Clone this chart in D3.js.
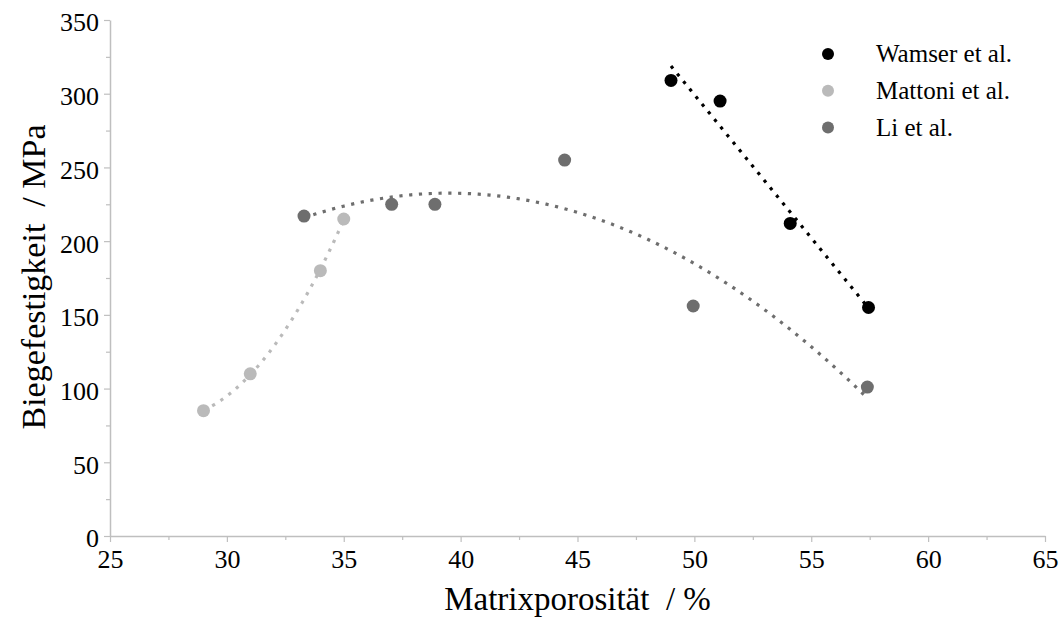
<!DOCTYPE html>
<html>
<head>
<meta charset="utf-8">
<script src="https://cdn.jsdelivr.net/npm/d3@7"></script>
<style>
  body { margin: 0; background: #fff; }
  text { font-family: "Liberation Serif", "Times New Roman", serif; }
</style>
</head>
<body>
<script>
const width = 1062;
const height = 617;

// data
const seriesNames = ["Wamser et al.", "Mattoni et al.", "Li et al."];
const seriesColors = ["#000000", "#bababa", "#6e6e6e"];
const wamserX = [49.0, 51.1, 54.1, 57.45];
const wamserY = [309, 295, 212, 155];
const mattoniX = [29.0, 31.0, 34.0, 35.0];
const mattoniY = [85, 110, 180, 215];
const liX = [33.3, 37.05, 38.9, 44.45, 49.95, 57.4];
const liY = [217, 225, 225, 255, 156, 101];
const trendOrder = [1, 2, 2];
const xTicks = [25, 30, 35, 40, 45, 50, 55, 60, 65];
const yTicks = [0, 50, 100, 150, 200, 250, 300, 350];

const margin = { left: 110, right: 17, top: 20, bottom: 81 };

const svg = d3
  .select("body")
  .append("svg")
  .attr("width", width)
  .attr("height", height);

const x = d3
  .scaleLinear()
  .domain([25, 65])
  .range([margin.left, width - margin.right]);
const y = d3
  .scaleLinear()
  .domain([0, 350])
  .range([height - margin.bottom, margin.top]);

const axisColor = "#bfbfbf";

// minor ticks
const xMinor = xTicks.slice(0, -1).map((d) => d + 2.5);
const yMinor = yTicks.slice(0, -1).map((d) => d + 25);

const xAxisG = svg
  .append("g")
  .attr("transform", "translate(0," + y(0) + ")");
xAxisG
  .append("g")
  .call(d3.axisBottom(x).tickValues(xMinor).tickSize(4).tickFormat(""))
  .call((g) => g.select(".domain").remove());
xAxisG
  .append("g")
  .call(d3.axisBottom(x).tickValues(xTicks).tickSize(6).tickSizeOuter(0))
  .call((g) => g.select(".domain").attr("stroke-width", 1.5));
xAxisG.selectAll("line").attr("stroke", axisColor).attr("stroke-width", 1.2);
xAxisG.selectAll(".domain").attr("stroke", axisColor);
xAxisG
  .selectAll("text")
  .attr("font-size", "26px")
  .attr("fill", "#000")
  .attr("y", 32)
  .attr("dy", "0");

const yAxisG = svg
  .append("g")
  .attr("transform", "translate(" + x(25) + ",0)");
yAxisG
  .append("g")
  .call(d3.axisLeft(y).tickValues(yMinor).tickSize(4).tickFormat(""))
  .call((g) => g.select(".domain").remove());
yAxisG
  .append("g")
  .call(d3.axisLeft(y).tickValues(yTicks).tickSize(6).tickSizeOuter(0))
  .call((g) => g.select(".domain").attr("stroke-width", 1.5));
yAxisG.selectAll("line").attr("stroke", axisColor).attr("stroke-width", 1.2);
yAxisG.selectAll(".domain").attr("stroke", axisColor);
yAxisG
  .selectAll("text")
  .attr("font-size", "26px")
  .attr("fill", "#000")
  .attr("x", -11)
  .attr("dy", "0.42em");

// axis titles
svg
  .append("text")
  .attr("x", (x(25) + x(65)) / 2)
  .attr("y", 610)
  .attr("text-anchor", "middle")
  .attr("font-size", "33px")
  .attr("xml:space", "preserve")
  .text("Matrixporosität  / %");

svg
  .append("text")
  .attr("transform", "translate(45," + ((y(0) + y(350)) / 2 - 1) + ") rotate(-90)")
  .attr("text-anchor", "middle")
  .attr("font-size", "34px")
  .attr("xml:space", "preserve")
  .text("Biegefestigkeit  / MPa");

// least squares polynomial fit (Excel style trend line)
function polyFit(xs, ys, order) {
  const n = order + 1;
  const A = [];
  for (let i = 0; i < n; i++) {
    A.push([]);
    for (let j = 0; j <= n; j++) A[i].push(0);
  }
  xs.forEach(function (xv, k) {
    for (let i = 0; i < n; i++) {
      for (let j = 0; j < n; j++) A[i][j] += Math.pow(xv, i + j);
      A[i][n] += ys[k] * Math.pow(xv, i);
    }
  });
  for (let i = 0; i < n; i++) {
    let p = i;
    for (let r = i + 1; r < n; r++) if (Math.abs(A[r][i]) > Math.abs(A[p][i])) p = r;
    [A[i], A[p]] = [A[p], A[i]];
    for (let r = 0; r < n; r++) {
      if (r === i) continue;
      const f = A[r][i] / A[i][i];
      for (let c = i; c <= n; c++) A[r][c] -= f * A[i][c];
    }
  }
  const coef = A.map((row, i) => row[n] / row[i]);
  return function (xv) {
    return coef.reduce((s, c, i) => s + c * Math.pow(xv, i), 0);
  };
}

const series = [
  { xs: wamserX, ys: wamserY },
  { xs: mattoniX, ys: mattoniY },
  { xs: liX, ys: liY },
];

const line = d3
  .line()
  .x((d) => x(d[0]))
  .y((d) => y(d[1]));

series.forEach(function (s, i) {
  const f = polyFit(s.xs, s.ys, trendOrder[i]);
  const [x0, x1] = d3.extent(s.xs);
  const pts = d3.range(0, 101).map((k) => {
    const xv = x0 + ((x1 - x0) * k) / 100;
    return [xv, f(xv)];
  });
  svg
    .append("path")
    .attr("d", line(pts))
    .attr("fill", "none")
    .attr("stroke", seriesColors[i])
    .attr("stroke-width", 3.2)
    .attr("stroke-dasharray", "3.2,6.6");
});

// points, drawn after all lines
series.forEach(function (s, i) {
  svg
    .append("g")
    .selectAll("circle")
    .data(s.xs.map((xv, k) => [xv, s.ys[k]]))
    .enter()
    .append("circle")
    .attr("cx", (d) => x(d[0]))
    .attr("cy", (d) => y(d[1]))
    .attr("r", 6.5)
    .attr("fill", seriesColors[i]);
});

// legend
const legend = svg
  .append("g")
  .selectAll("g")
  .data(seriesNames)
  .enter()
  .append("g")
  .attr("transform", (d, i) => "translate(828," + (54 + i * 36.7) + ")");
legend
  .append("circle")
  .attr("r", 6)
  .attr("fill", (d, i) => seriesColors[i]);
legend
  .append("text")
  .attr("x", 48)
  .attr("dy", "0.33em")
  .attr("font-size", "25px")
  .text((d) => d);
</script>
</body>
</html>
